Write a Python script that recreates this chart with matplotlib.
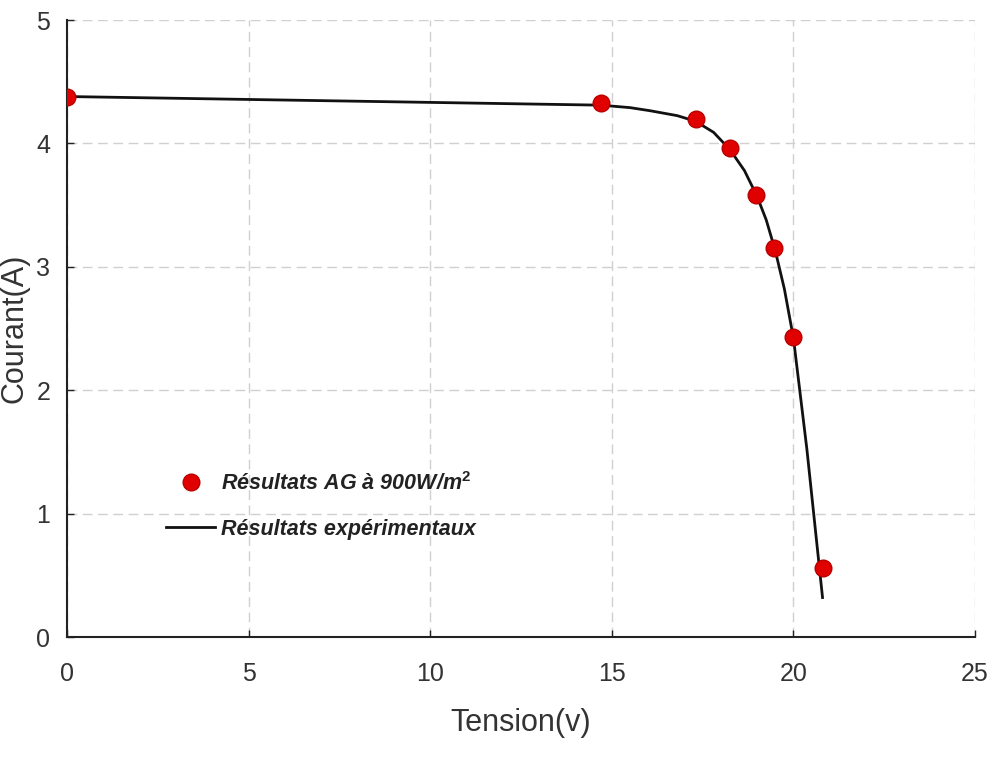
import numpy as np
import matplotlib
matplotlib.use("Agg")
import matplotlib.pyplot as plt

# points AG (red circles)
v_ag = [0.0, 14.69, 17.31, 18.25, 18.97, 19.47, 20.0, 20.82]
i_ag = [4.38, 4.33, 4.20, 3.96, 3.58, 3.15, 2.43, 0.56]

# courbe experimentale (black line)
v_exp = [0.0, 14.7, 15.5, 16.05, 16.8, 17.3, 17.8, 18.25, 18.65, 19.0, 19.25,
         19.5, 19.75, 20.0, 20.37, 20.80]
i_exp = [4.38, 4.31, 4.29, 4.265, 4.225, 4.18, 4.09, 3.95, 3.78, 3.57, 3.38,
         3.13, 2.82, 2.42, 1.52, 0.32]

xticks = [0, 5, 10, 15, 20, 25]
yticks = [0, 1, 2, 3, 4, 5]

plt.rcParams["font.family"] = ["Liberation Sans", "DejaVu Sans"]
plt.rcParams["mathtext.fontset"] = "custom"
plt.rcParams["mathtext.rm"] = "Liberation Sans:bold"
plt.rcParams["mathtext.it"] = "Liberation Sans:bold:italic"

fig = plt.figure(figsize=(9.96, 7.58), dpi=100)
ax = fig.add_axes([0.0673, 0.1596, 0.9117, 0.814])

ax.plot(v_ag, i_ag, "o", color="#e00000", markeredgecolor="#b80000",
        markersize=12, label=r"Résultats AG à 900W/m$^{2}$", zorder=3)
ax.plot(v_exp, i_exp, color="#111111", lw=2.0, label="Résultats expérimentaux", zorder=2)

ax.set_xlim(0, 25)
ax.set_ylim(0, 5)
ax.set_xticks(xticks)
ax.set_yticks(yticks)
ax.grid(True, ls=(0, (7, 4)), color="#d0d0d0", lw=1.0)
ax.set_axisbelow(True)

for s in ["top", "right"]:
    ax.spines[s].set_visible(False)
for s in ["left", "bottom"]:
    ax.spines[s].set_linewidth(1.5)
    ax.spines[s].set_color("#222222")

ax.tick_params(direction="in", length=5, width=1, colors="#222222",
               labelsize=18, labelcolor="#333333")
ax.tick_params(axis="x", pad=18)
ax.tick_params(axis="y", pad=12)

ax.set_xlabel("Tension(v)", fontsize=22, color="#333333", labelpad=16)
ax.set_ylabel("Courant(A)", fontsize=22, color="#333333")
ax.yaxis.set_label_coords(-0.041, 0.5)

leg = ax.legend(loc="upper left", bbox_to_anchor=(0.097, 0.285), frameon=False,
                prop={"style": "italic", "weight": "bold", "size": 15.5},
                handlelength=2.3, handletextpad=0.25, labelspacing=1.1, borderpad=0)
for t in leg.get_texts():
    t.set_color("#222222")

fig.savefig("out.png", dpi=100)
